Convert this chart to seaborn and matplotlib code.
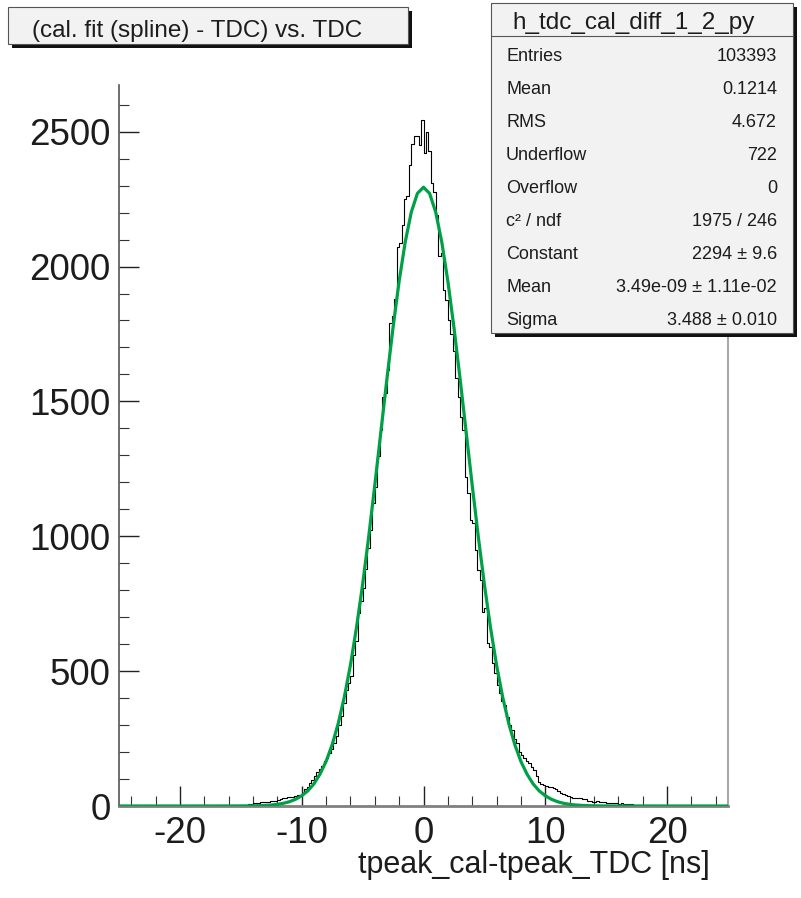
import numpy as np
import pandas as pd
import matplotlib
matplotlib.use('Agg')
import matplotlib.pyplot as plt
import seaborn as sns
from matplotlib.patches import Rectangle
from matplotlib.lines import Line2D
from matplotlib.ticker import MultipleLocator

# histogram: 250 bins of 0.2 ns between -25 and 25 (counts)
bin_edges = np.linspace(-25, 25, 251)
counts = [
    1, 0, 2, 1, 1, 0, 2, 1, 0, 1,            # -25 .. -23
    1, 2, 0, 1, 1, 2, 1, 0, 2, 1,            # -23 .. -21
    2, 1, 1, 3, 1, 2, 0, 2, 1, 2,            # -21 .. -19
    2, 1, 3, 2, 1, 2, 3, 1, 2, 2,            # -19 .. -17
    3, 2, 2, 3, 4, 2, 3, 3, 4, 3,            # -17 .. -15
    4, 5, 5, 6, 6, 10, 12, 11, 13, 14,       # -15 .. -13
    16, 15, 18, 20, 19, 23, 26, 29, 30, 32,  # -13 .. -11
    35, 34, 37, 40, 42, 50, 62, 72, 85, 97,  # -11 .. -9
    112, 125, 138, 148, 165, 178, 196, 210, 232, 258,       # -9 .. -7
    300, 335, 382, 430, 455, 482, 560, 610, 716, 760,       # -7 .. -5
    808, 880, 955, 1024, 1124, 1184, 1296, 1395, 1518, 1530,  # -5 .. -3
    1617, 1790, 1815, 1880, 2074, 2087, 2155, 2250, 2262, 2377,  # -3 .. -1
    2455, 2485, 2485, 2450, 2544, 2420, 2500, 2427, 2310, 2275,  # -1 .. 1
    2192, 2040, 2050, 1914, 1877, 1803, 1750, 1685, 1587, 1518,  # 1 .. 3
    1444, 1395, 1221, 1161, 1061, 1049, 950, 875, 838, 720,      # 3 .. 5
    734, 604, 591, 530, 493, 450, 419, 390, 375, 331,            # 5 .. 7
    300, 282, 250, 234, 201, 190, 178, 165, 159, 145,            # 7 .. 9
    134, 110, 90, 82, 78, 75, 70, 72, 66, 62,                    # 9 .. 11
    55, 50, 46, 42, 38, 34, 31, 30, 28, 29,                      # 11 .. 13
    27, 26, 20, 17, 16, 15, 17, 14, 16, 15,                      # 13 .. 15
    12, 11, 12, 10, 10, 9, 10, 8, 9, 7,                          # 15 .. 17
    8, 4, 3, 4, 2, 3, 2, 3, 1, 2,                                # 17 .. 19
    2, 1, 2, 1, 1, 2, 1, 0, 1, 1,                                # 19 .. 21
    1, 0, 1, 1, 0, 1, 0, 1, 0, 0,                                # 21 .. 23
    1, 0, 0, 1, 0, 0, 1, 0, 0, 0,                                # 23 .. 25
]

# gaussian fit curve sampled every 0.5 ns
fit_x = np.linspace(-25, 25, 101)
fit_y = [
    0, 0, 0, 0, 0, 0, 0, 0, 0, 0,
    0, 0, 0, 0, 0, 0, 0, 0, 0.05, 0.1,
    0.2, 0.4, 0.7, 1.3, 2.2, 3.7, 6.2, 10, 16, 25,
    38, 56, 82, 118, 165, 227, 306, 404, 522, 662,
    821, 998, 1189, 1387, 1585, 1774, 1946, 2091, 2202, 2271,
    2294,
    2271, 2202, 2091, 1946, 1774, 1585, 1387, 1189, 998, 821,
    662, 522, 404, 306, 227, 165, 118, 82, 56, 38,
    25, 16, 10, 6.2, 3.7, 2.2, 1.3, 0.7, 0.4, 0.2,
    0.1, 0.05, 0, 0, 0, 0, 0, 0, 0, 0,
    0, 0, 0, 0, 0, 0, 0, 0, 0, 0,
]

title = '(cal. fit (spline) - TDC) vs. TDC'
xlabel = 'tpeak_cal-tpeak_TDC [ns]'
xticks = [-20, -10, 0, 10, 20]
yticks = [0, 500, 1000, 1500, 2000, 2500]

stats_name = 'h_tdc_cal_diff_1_2_py'
stats_labels = ['Entries', 'Mean', 'RMS', 'Underflow', 'Overflow',
                'c² / ndf', 'Constant', 'Mean', 'Sigma']
stats_values = ['103393', '0.1214', '4.672', '722', '0',
                '1975 / 246', '2294 ± 9.6', '3.49e-09 ± 1.11e-02', '3.488 ± 0.010']

sns.set_style('ticks')
plt.rcParams['font.family'] = ['Liberation Sans', 'DejaVu Sans']
plt.rcParams['axes.unicode_minus'] = False

W, H = 801, 898
txt = '#1c1c1c'
green = '#00a046'

fig = plt.figure(figsize=(W / 100, H / 100), dpi=100)
ax = fig.add_axes([119 / W, 1 - 806 / H, 609 / W, 721 / H])

df = pd.DataFrame({'x': (bin_edges[:-1] + bin_edges[1:]) / 2, 'n': counts})
sns.histplot(data=df, x='x', weights='n', binwidth=0.2, binrange=(-25, 25),
             element='step', fill=False, color='black', linewidth=0.8, ax=ax)
sns.lineplot(x=fit_x, y=fit_y, color=green, linewidth=2.3, ax=ax, zorder=3)

ax.set_xlim(-25, 25)
ax.set_ylim(0, 2673)
ax.set_xticks(xticks)
ax.set_yticks(yticks)
ax.xaxis.set_minor_locator(MultipleLocator(2))
ax.yaxis.set_minor_locator(MultipleLocator(100))
ax.tick_params(which='major', direction='in', length=14.5, width=1, color='#222222',
               labelsize=26.5, labelcolor=txt)
ax.tick_params(which='minor', direction='in', length=7.5, width=0.8, color='#333333')
ax.tick_params(axis='x', which='major', pad=7.5)
ax.tick_params(axis='y', which='major', pad=6)
ax.set_ylabel('')
ax.set_xlabel(xlabel, fontsize=22, color=txt, ha='right', va='baseline')
ax.xaxis.set_label_coords(0.970, -0.0925)

ax.spines['top'].set_visible(False)
ax.spines['left'].set_color('#555555')
ax.spines['left'].set_linewidth(1.2)
ax.spines['bottom'].set_color('#808080')
ax.spines['bottom'].set_linewidth(2)
ax.spines['right'].set_color('#a8a8a8')
ax.spines['right'].set_linewidth(1.5)


def fx(px):
    return px / W


def fy(py):
    return 1 - py / H


def panel(x0, y0, x1, y1):
    # shadowed box in pixel coordinates (top-left origin)
    fig.add_artist(Rectangle((fx(x0 + 4), fy(y1 + 4)), fx(x1 - x0), (y1 - y0) / H,
                             transform=fig.transFigure, facecolor='#111111',
                             edgecolor='none', zorder=5))
    fig.add_artist(Rectangle((fx(x0), fy(y1)), fx(x1 - x0), (y1 - y0) / H,
                             transform=fig.transFigure, facecolor='#f2f2f2',
                             edgecolor='#555555', linewidth=0.8, zorder=6))


# title box
panel(8, 7, 408, 44)
fig.text(fx(32), fy(37), title, fontsize=17.5, color=txt, ha='left', va='baseline', zorder=7)

# stats box
panel(491, 3, 793, 333)
fig.add_artist(Line2D([fx(491), fx(793)], [fy(36), fy(36)], transform=fig.transFigure,
                      color='#555555', linewidth=0.8, zorder=7))
fig.text(fx(634), fy(29), stats_name, fontsize=17.5, color=txt, ha='center', va='baseline', zorder=7)
for i, (lab, val) in enumerate(zip(stats_labels, stats_values)):
    yb = fy(61 + 33 * i)
    fig.text(fx(506), yb, lab, fontsize=13, color=txt, ha='left', va='baseline', zorder=7)
    fig.text(fx(777), yb, val, fontsize=13, color=txt, ha='right', va='baseline', zorder=7)

fig.savefig('out.png', dpi=100)
